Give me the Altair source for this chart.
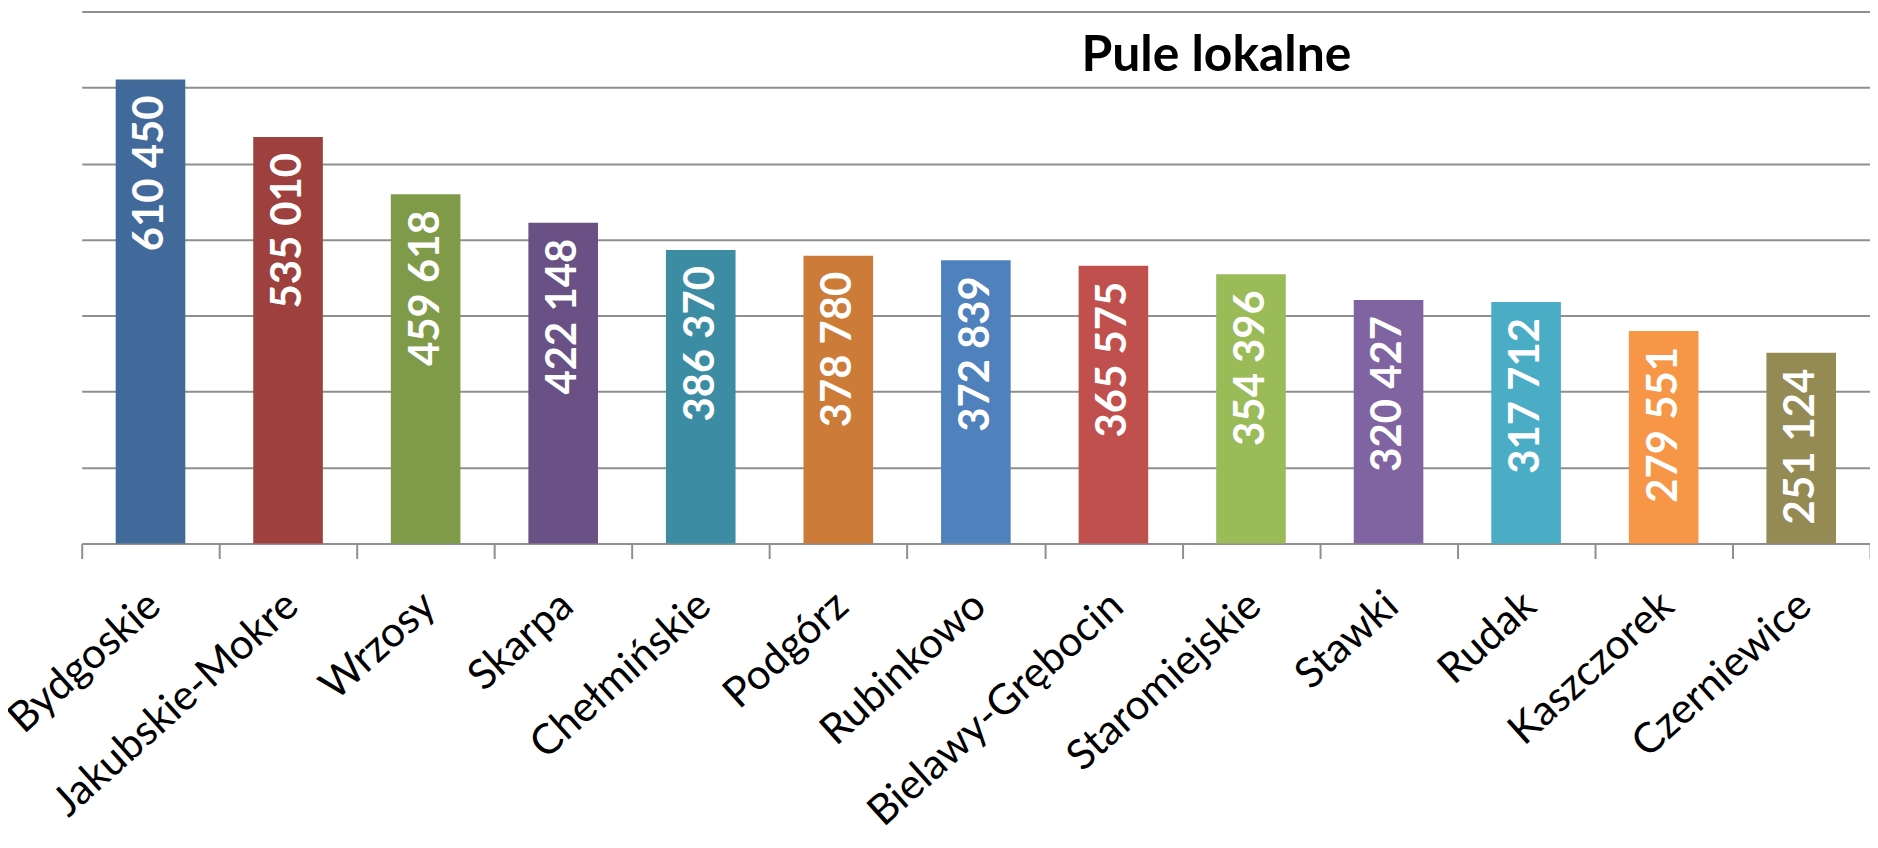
import altair as alt
import pandas as pd

categories = ["Bydgoskie", "Jakubskie-Mokre", "Wrzosy", "Skarpa", "Chełmińskie",
              "Podgórz", "Rubinkowo", "Bielawy-Grębocin", "Staromiejskie", "Stawki",
              "Rudak", "Kaszczorek", "Czerniewice"]
values = [610450, 535010, 459618, 422148, 386370, 378780, 372839, 365575,
          354396, 320427, 317712, 279551, 251124]
colors = ["#416A9B", "#9E413E", "#7F9A48", "#695185", "#3C8DA3", "#CC7B38",
          "#4F81BD", "#C0504D", "#9BBB59", "#8064A2", "#4BACC6", "#F79646", "#948A54"]
title_text = ["Pule lokalne"]

df = pd.DataFrame({"cat": categories, "val": values})
df["label"] = [f"{v:,}".replace(",", " ") for v in values]

FONT = "Lato"
GRID = "#8f8f8f"

x_enc = alt.X("cat:N", sort=categories,
              scale=alt.Scale(paddingInner=0, paddingOuter=0),
              axis=alt.Axis(title=None, labelAngle=-42, labelAlign="right",
                            labelBaseline="top", labelFontSize=42, labelFont=FONT,
                            labelColor="#000000", labelPadding=26, labelOffset=-10,
                            labelOverlap=False, labelLimit=0,
                            domainColor=GRID, domainWidth=2, tickColor=GRID,
                            tickWidth=2, tickSize=15, tickBand="extent", grid=False))
y_enc = alt.Y("val:Q", scale=alt.Scale(domain=[0, 700000], nice=False),
              axis=alt.Axis(title=None, labels=False, ticks=False, domain=False,
                            grid=True, gridColor=GRID, gridWidth=2,
                            values=[100000, 200000, 300000, 400000, 500000, 600000, 700000]))

bars = alt.Chart(df).mark_bar(width=alt.RelativeBandSize(0.506)).encode(
    x=x_enc, y=y_enc,
    color=alt.Color("cat:N", sort=categories,
                    scale=alt.Scale(domain=categories, range=colors), legend=None),
)

labels = alt.Chart(df).mark_text(angle=270, align="right", baseline="middle", dx=-16,
                                 color="white", font=FONT, fontWeight="bold",
                                 fontSize=42).encode(
    x=alt.X("cat:N", sort=categories), y="val:Q", text="label:N")

title = alt.Chart(pd.DataFrame({"t": title_text})).mark_text(
    align="center", baseline="alphabetic", font=FONT, fontWeight="bold",
    fontSize=50, color="#000000").encode(
    text="t:N", x=alt.value(1139), y=alt.value(60))

chart = (bars + labels + title).properties(
    width=1795, height=534,
    padding={"left": 74, "top": 2, "right": 0, "bottom": 300},
    autosize=alt.AutoSizeParams(type="none"),
).configure_view(stroke=None)

chart.save("out.html", embed_options={"renderer": "svg", "actions": False})
